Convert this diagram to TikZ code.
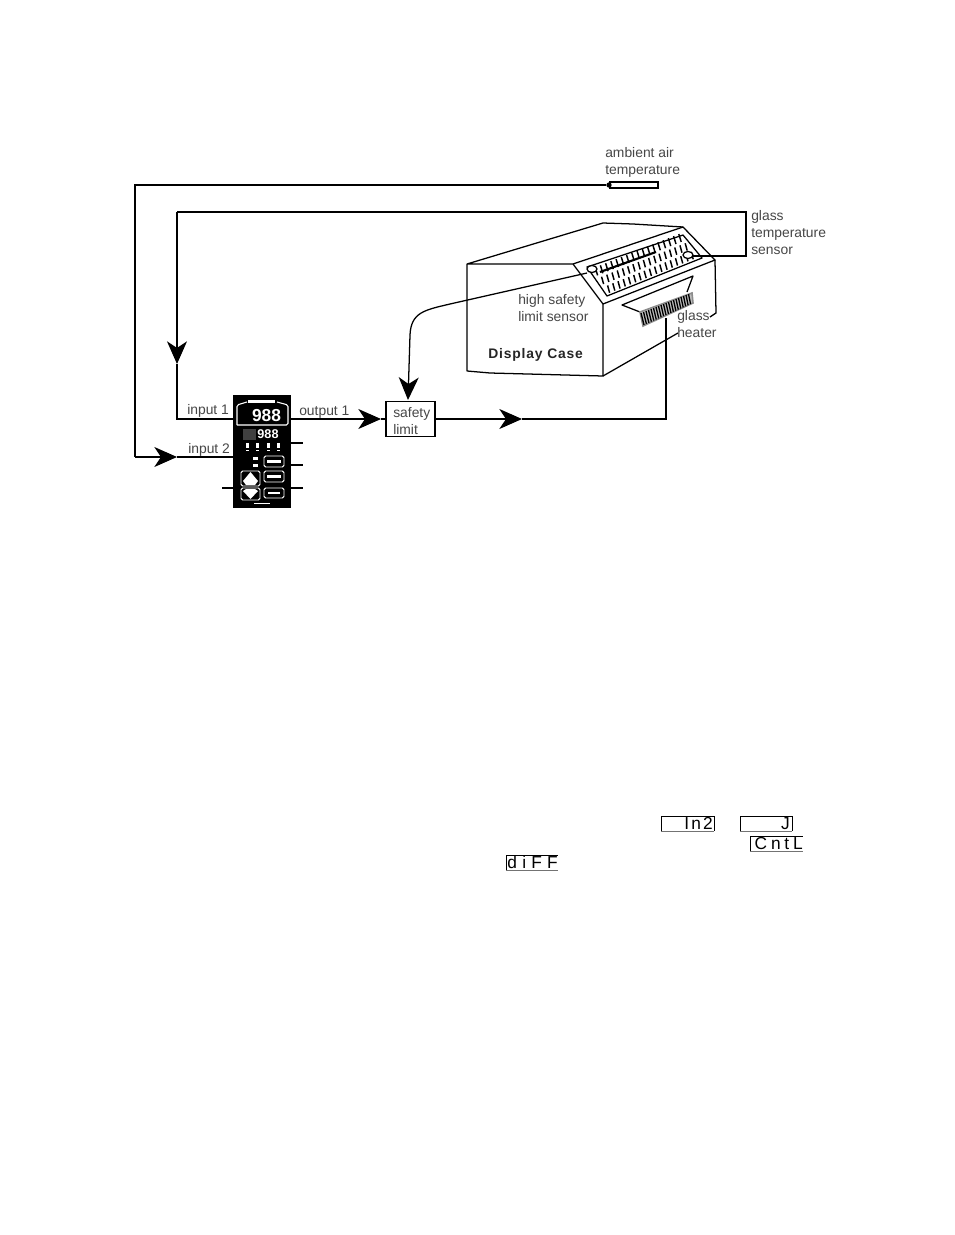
\documentclass[tikz,border=0pt]{standalone}
\usepackage{fontspec}
\setmainfont{Liberation Sans}
\usetikzlibrary{arrows.meta}
\tikzset{
  x=0.75pt,y=-0.75pt,
  wire/.style={draw=black,line width=0.95pt},
  barb/.style={wire,-{Stealth[length=17pt,width=15pt,inset=5pt]}},
  caseline/.style={draw=black,line width=0.95pt,line join=round},
  lab/.style={anchor=west,inner sep=0pt,align=left,text=black!72,font=\fontsize{10.4}{12.75}\selectfont},
  hatch/.style={draw=black,line width=1.1pt},
  ctl/.style={draw=white,line width=0.7pt,rounded corners=1.2pt},
  lcd/.style={draw=black,line width=0.75pt},
  lcdtext/.style={anchor=east,inner sep=0pt,font=\fontsize{13}{13}\selectfont\addfontfeature{LetterSpace=#1}},
  lcdtext/.default=12,
}
\begin{document}
\begin{tikzpicture}
\useasboundingbox (0,0) rectangle (954,1235);
\fill[white] (0,0) rectangle (954,1235);

% display case
\draw[caseline] (467,264) -- (603,223) -- (633,224) -- (683,227) -- (715,260) -- (603,304) -- (573,264) -- (467,264) -- (467,371) -- (490,373) -- (603,376) -- (603,304);
\draw[caseline] (573,264) -- (683,227);
\draw[caseline] (603,376) -- (678,333);
\draw[caseline] (715,260) -- (716,313) -- (710,317);
\draw[caseline] (607,296) -- (587,267) -- (683,235) -- (702,258) -- cycle;
\foreach \v/\w in {0.06/0.28,0.36/0.58,0.66/0.9}
  \foreach \u in {0.04,0.095,...,0.97}
    \draw[hatch] ({607+95*\u-20*\v},{296-38*\u-29*\v}) -- ({607+95*(\u+0.025)-20*\w},{296-38*(\u+0.025)-29*\w});
\draw[hatch,line width=1.6pt] (600,272) -- (656,252);
\draw[caseline,fill=white] (592,269) ellipse (5 and 3.5);
\draw[caseline,fill=white] (688,255) ellipse (5 and 3.5);
% heater recess
\draw[caseline] (640,312) -- (622,305) -- (693,276) -- (687,292);
\path[draw=black!45,fill=black!25,line width=1.2pt] (640,312) -- (692,293) -- (693,303) -- (643,326) -- cycle;
\foreach \u in {0,0.05,...,1}
  \draw[black,line width=1pt] ({641+50*\u},{313-20*\u}) -- ({644+49*\u},{325-22*\u});

% ambient sensor
\node[draw=black,line width=0.95pt,minimum width=36pt,minimum height=4.4pt,inner sep=0pt] (ambsens) at (634,185) {};
\node[circle,fill=black,minimum size=4pt,inner sep=0pt] (ambtip) at (609,185) {};

% controller
\node[fill=black,minimum width=43.5pt,minimum height=84.75pt,inner sep=0pt] (ctrl) at (262,451.5) {};
\draw[ctl,line width=0.8pt] (237,425) -- (237,405) -- (247,402) (277,402) -- (288,405) -- (288,425) -- (237,425);
\fill[white] (248,400) rectangle (275,403);
\node[inner sep=0pt,text=white,font=\bfseries\fontsize{13}{13}\selectfont] (disp1) at (266.5,415.5) {988};
\node[inner sep=0pt,text=white,font=\bfseries\fontsize{9.5}{9.5}\selectfont] (disp2) at (268,434) {988};
\fill[black!75] (243,429) rectangle (256,440);
\foreach \x in {247,257,268,278} \fill[white] (\x-1.5,443) rectangle (\x+1.5,448);
\foreach \x in {247,257,268,278} \fill[white] (\x-1.5,450) rectangle (\x+1.5,451);
\fill[white] (253,457) rectangle (258,460);
\fill[white] (253,464) rectangle (258,467);
\draw[ctl] (264,456) rectangle (284,467);
\draw[ctl] (264,471) rectangle (284,482);
\draw[ctl] (264,488) rectangle (284,498);
\draw[ctl] (241,471) rectangle (260,486);
\draw[ctl] (241,488) rectangle (260,500);
\fill[white] (250.5,472) -- (258,481) -- (255,485) -- (246,485) -- (243,481) -- cycle;
\fill[white] (250.5,499) -- (258,491) -- (255,489) -- (246,489) -- (243,491) -- cycle;
\fill[white] (267,460) rectangle (281,463);
\fill[white] (267,475) rectangle (281,478);
\fill[white] (268,492) rectangle (280,494);
\fill[white] (254,503) rectangle (270,504);

% safety limit
\node[draw=black,line width=0.95pt,minimum width=36.75pt,minimum height=26.25pt,inner sep=0pt] (safety) at (410.5,419) {};

% anchors of connectors
\coordinate (in1) at (233,419);
\coordinate (in2) at (233,457);
\coordinate (out1) at (291,419);
\coordinate (c1) at (135,457);
\coordinate (c2) at (135,185);
\coordinate (c3) at (177,419);
\coordinate (c4) at (177,212);
\coordinate (c5) at (746,212);
\coordinate (c6) at (746,256);
\coordinate (c7) at (692,256);
\coordinate (c8) at (666,419);
\coordinate (c9) at (666,318);
\coordinate (t1) at (177,364);
\coordinate (t2) at (177,457);
\coordinate (t3) at (381,419);
\coordinate (t4) at (408,400);
\coordinate (t5) at (522,419);
\coordinate (hs) at (587,273);
\coordinate (r1) at (303,443);
\coordinate (r2) at (303,465);
\coordinate (r3) at (303,488);
\coordinate (r0) at (291,443);
\coordinate (r4) at (291,465);
\coordinate (r5) at (291,488);
\coordinate (l1) at (222,488);
\coordinate (l0) at (233,488);

% connectors
\draw[wire] (ambtip) -- (c2) -- (c1);
\draw[barb] (c1) -- (t2);
\draw[wire] (t2) -- (in2);
\draw[wire] (c7) -- (c6) -- (c5) -- (c4);
\draw[barb] (c4) -- (t1);
\draw[wire] (t1) -- (c3) -- (in1);
\draw[barb] (out1) -- (t3);
\draw[wire] (t3) -- (safety.west);
\draw[barb] (safety.east) -- (t5);
\draw[wire] (t5) -- (c8) -- (c9);
\draw[wire] (hs) -- (450,304) .. controls (425,310) and (411,312) .. (410,335);
\draw[barb] (410,335) -- (t4);
\draw[wire] (r0) -- (r1);
\draw[wire] (r4) -- (r2);
\draw[wire] (r5) -- (r3);
\draw[wire] (l1) -- (l0);

% labels
\node[lab] (lamb) at (605,162) {ambient air\\temperature};
\node[lab] (lglass) at (751,233) {glass\\temperature\\sensor};
\node[lab] (lhigh) at (518,308) {high safety\\limit sensor};
\node[lab] (lheat) at (677,324) {glass\\heater};
\node[lab,text=black!85,font=\bfseries\fontsize{10.4}{12.75}\selectfont\addfontfeature{LetterSpace=6}] (lcase) at (488,355) {Display Case};
\node[lab] (lin1) at (187,411) {input 1};
\node[lab] (lin2) at (188,449.5) {input 2};
\node[lab] (lout1) at (299,412) {output 1};
\node[lab] (lsafe) at (393,421) {safety\\limit};

% parameter displays
\draw[lcd] (661,831) -- (661,816) -- (714,816) -- (714,831);
\draw[black!55,line width=0.5pt] (661,831) -- (714,831);
\node[lcdtext=12] (pin2) at (713,823.5) {In2};
\draw[lcd] (740,831) -- (740,816) -- (792,816) -- (792,831);
\draw[black!55,line width=0.5pt] (740,831) -- (792,831);
\node[lcdtext=12] (pj) at (790,823.5) {J};
\draw[lcd] (750,851) -- (750,836) -- (803,836);
\draw[black!55,line width=0.5pt] (750,851) -- (803,851);
\node[lcdtext=22] (pcntl) at (803,844) {CntL};
\draw[lcd] (506,870) -- (506,855) -- (558,855);
\draw[black!55,line width=0.5pt] (506,870) -- (558,870);
\node[lcdtext=30] (pdiff) at (558,862.5) {diFF};
\end{tikzpicture}
\end{document}
